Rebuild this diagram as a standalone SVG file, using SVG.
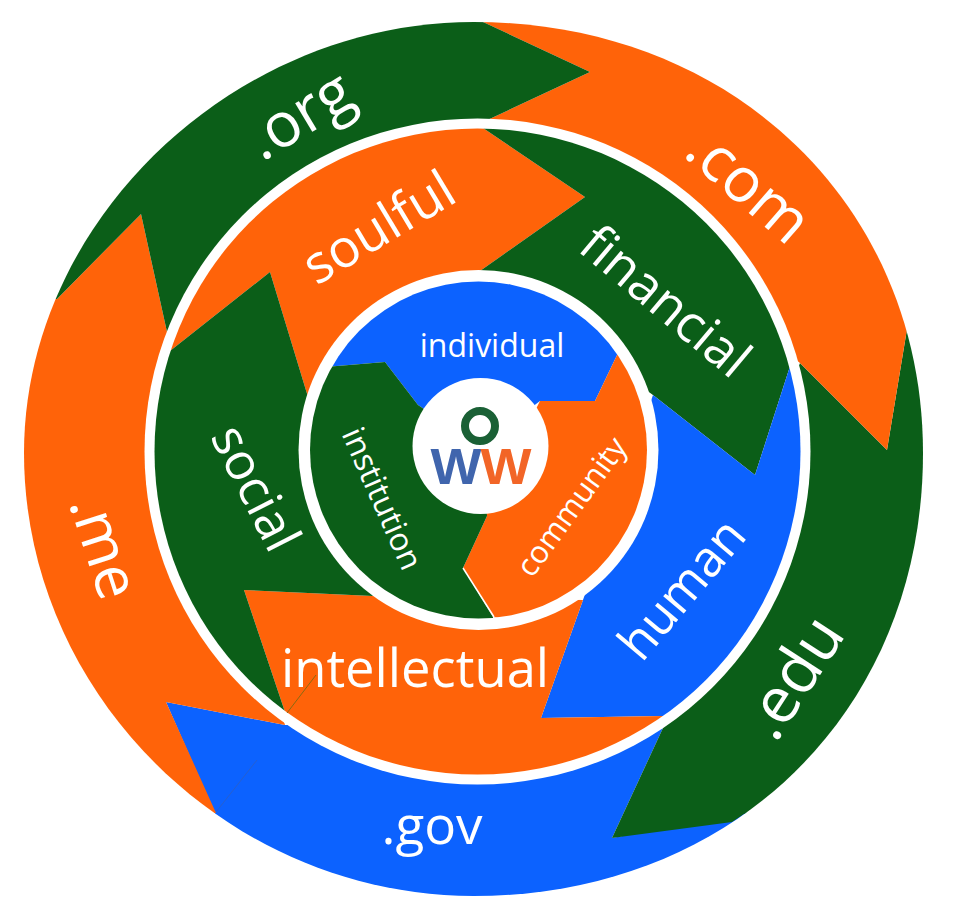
<svg xmlns="http://www.w3.org/2000/svg" width="964" height="898" viewBox="0 0 964 898">
<style>
.o{fill:#ff6309}.g{fill:#0b5e18}.b{fill:#0c62ff}
text{font-family:"Open Sans","Noto Sans","Liberation Sans",sans-serif;fill:#fff;text-anchor:middle}
</style>
<defs>
<clipPath id="c1"><path d="M24,453C24,222 233,22 473.5,22C732,22 923,205 923,453C923,710 734,896 473.5,896C228.5,896 24,694 24,453Z"/></clipPath>
<clipPath id="c2"><circle cx="477.5" cy="451.5" r="323"/></clipPath>
<clipPath id="c3"><circle cx="478.5" cy="450" r="168.5"/></clipPath>
</defs>
<rect width="964" height="898" fill="#fff"/>
<g clip-path="url(#c1)">
<g id="gov"><polygon class="b" points="760,810 612,838 663,728 285,725 166,702 215,814 215,898 760,898"/></g>
<g id="edu"><polygon class="g" points="907,329 887,450 800,363 663,728 612,838 732,822 744,814 964,814 964,329"/></g>
<g id="com"><polygon class="o" points="483,22 590,72 483,122 800,363 887,450 907,329 964,329 964,0 483,0"/></g>
<g id="me"><polygon class="o" points="216,813 166,702 285,725 167,332 141,214 57,299 0,299 0,813"/></g>
<g id="org"><polygon class="g" points="57,299 141,214 167,332 483,122 590,72 483,22 483,0 0,0 0,299"/></g>
</g>
<circle cx="477.5" cy="451.5" r="333" fill="#fff"/>
<g clip-path="url(#c2)">
<g id="soulful"><polygon class="o" points="483,128 585,197 480,271 308,397 270,272 170,351 100,351 100,100 483,100"/></g>
<g id="financial"><polygon class="g" points="792,360 755,475 653,395 480,271 585,197 483,128 483,100 850,100 850,360"/></g>
<g id="human"><polygon class="b" points="663,716 541,718 583,600 653,395 755,475 792,360 850,360 850,716"/></g>
<g id="intellectual"><polygon class="o" points="285,712 244,590 373,596 583,600 541,718 663,716 663,800 285,800"/></g>
<g id="social"><polygon class="g" points="170,351 270,272 308,397 373,596 244,590 285,712 285,800 100,800 100,351"/></g>
</g>
<circle cx="478.5" cy="450" r="180" fill="#fff"/>
<g clip-path="url(#c3)">
<g id="individual"><polygon class="b" points="618,353 595,401 540,401 480,446 418,405 385,362 325,367 300,250 660,250"/></g>
<g id="community"><polygon class="o" points="618,353 595,401 540,401 482,516 487,516 463,568 493,617 660,640 660,353"/></g>
<g id="institution"><polygon class="g" points="493,617 463,568 487,516 480,446 418,405 385,362 325,367 290,367 290,640 493,640"/></g>
<line x1="463" y1="568" x2="494" y2="617" stroke="#fff" stroke-width="1.5"/>
</g>
<g id="logo">
<circle cx="480.5" cy="446" r="68" fill="#fff"/>
<circle cx="480" cy="426" r="15" fill="none" stroke="#1a6035" stroke-width="8"/>
<text x="456" y="484" font-size="50" font-weight="700" style="font-family:'Liberation Sans',sans-serif;fill:#4065ad" textLength="51" lengthAdjust="spacingAndGlyphs">W</text>
<text x="506" y="484" font-size="50" font-weight="700" style="font-family:'Liberation Sans',sans-serif;fill:#f26527" textLength="51" lengthAdjust="spacingAndGlyphs">W</text>
</g>
<g id="labels">
<text font-size="62" transform="translate(310 133) rotate(-31)">.org</text>
<text font-size="62" transform="translate(735 201) rotate(41)">.com</text>
<text font-size="64" transform="translate(811 689) rotate(-57)">.edu</text>
<text font-size="53" transform="translate(432 844)">.gov</text>
<text font-size="60" transform="translate(85 553) rotate(72)">.me</text>
<text font-size="53" transform="translate(388 243) rotate(-31)">soulful</text>
<text font-size="52" transform="translate(654 315) rotate(40)">financial</text>
<text font-size="50" transform="translate(695 600) rotate(-50)">human</text>
<text font-size="52.5" transform="translate(415 687)">intellectual</text>
<text font-size="51" transform="translate(240 496) rotate(63)">social</text>
<text font-size="32" transform="translate(492 357)">individual</text>
<text font-size="31" transform="translate(580 513) rotate(-54)">community</text>
<text font-size="32" transform="translate(372 503) rotate(66)">institution</text>
</g>
<line x1="287" y1="713" x2="316" y2="675" stroke="#8a6a12" stroke-width="1"/>
<line x1="216" y1="812" x2="257" y2="760" stroke="#3a5fb0" stroke-width="1" opacity=".6"/>
</svg>
